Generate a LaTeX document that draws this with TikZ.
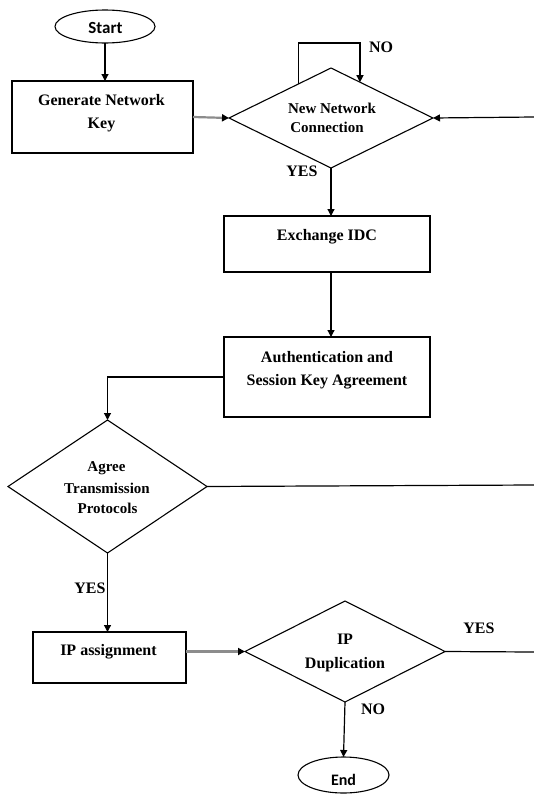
\documentclass[tikz,border=0pt]{standalone}
\usepackage{fontspec}
\setmainfont{Liberation Serif}
\newfontfamily\calfont{Carlito}
\usetikzlibrary{shapes.geometric,arrows.meta}
\begin{document}
\begin{tikzpicture}[x=1pt,y=-1pt,
  box/.style={draw,line width=1.1pt,inner sep=0pt,outer sep=0pt},
  dia/.style={draw,diamond,line width=1.1pt,inner sep=0pt,outer sep=0pt},
  oval/.style={draw,ellipse,line width=1.1pt,inner sep=0pt,outer sep=0pt},
  txt/.style={anchor=base,inner sep=0pt,font=\bfseries\fontsize{16}{19}\selectfont},
  dtxt/.style={anchor=base,inner sep=0pt,font=\bfseries\fontsize{15}{18}\selectfont},
  ctxt/.style={anchor=base,inner sep=0pt,font=\calfont\bfseries\fontsize{17}{20}\selectfont},
  conn/.style={line width=1.2pt},
  arr/.style={conn,-{Triangle[length=7pt,width=7pt]}},
  garr/.style={line width=2.2pt,draw=black!45,-{Triangle[length=7pt,width=7pt,color=black]}}
]
\useasboundingbox[fill=white] (0,0) rectangle (534,795);

% shapes
\node[oval,minimum width=100pt,minimum height=33pt] (start) at (105,26.5) {};
\node[box,minimum width=181pt,minimum height=72pt] (gen) at (102.5,117) {};
\node[dia,minimum width=204pt,minimum height=100pt] (nnc) at (331,118) {};
\node[box,minimum width=206pt,minimum height=56pt] (exch) at (327,244) {};
\node[box,minimum width=206pt,minimum height=80pt] (auth) at (327,377) {};
\node[dia,minimum width=199pt,minimum height=133pt] (agree) at (107.5,486.5) {};
\node[box,minimum width=153pt,minimum height=51pt] (ip) at (109.5,657.5) {};
\node[dia,minimum width=200pt,minimum height=101pt] (ipd) at (345,651.5) {};
\node[oval,minimum width=91pt,minimum height=36pt] (end) at (343.5,775) {};

% texts
\node[ctxt] (tstart) at (105.5,33) {Start};
\node[txt] (tgen1) at (101.5,105) {Generate Network};
\node[txt] (tgen2) at (101.5,128) {Key};
\node[dtxt] (tnnc1) at (332,113) {New Network};
\node[dtxt] (tnnc2) at (327,132) {Connection};
\node[txt] (texch) at (327,240) {Exchange IDC};
\node[txt] (tauth1) at (327,362) {Authentication and};
\node[txt] (tauth2) at (327,385) {Session Key Agreement};
\node[dtxt] (tag1) at (106.5,471) {Agree};
\node[dtxt] (tag2) at (107,493) {Transmission};
\node[dtxt] (tag3) at (107.5,513) {Protocols};
\node[txt] (tip) at (108.5,655) {IP assignment};
\node[txt] (tipd1) at (345,644) {IP};
\node[txt] (tipd2) at (345,668) {Duplication};
\node[ctxt,font=\calfont\bfseries\fontsize{16}{19}\selectfont] (tend) at (343.5,785) {End};

% labels
\node[txt] (lno1) at (381,52) {NO};
\node[txt] (lyes1) at (302,176) {YES};
\node[txt] (lyes2) at (90,593) {YES};
\node[txt] (lyes3) at (479,633) {YES};
\node[txt] (lno2) at (373,714) {NO};

% free ends
\coordinate (rin) at (534,117);
\coordinate (rout1) at (534,485);
\coordinate (rout2) at (534,652);
\coordinate (looptop) at (298,43);

% connectors
\draw[arr] (start.south -| 105,0) -- (105,0 |- gen.north);
\draw[garr] (gen.east) -- (nnc.west);
\draw[arr] (rin) -- (nnc.east);
\draw[arr] (nnc.134) -- (nnc.134 |- looptop) -| (nnc.51);
\draw[arr] (nnc.south) -- (nnc.south |- exch.north);
\draw[arr] (nnc.south |- exch.south) -- (nnc.south |- auth.north);
\draw[arr] (auth.west) -| (agree.north);
\draw[conn] (agree.east) -- (rout1);
\draw[arr] (agree.south) -- (agree.south |- ip.north);
\draw[garr] (ipd.west -| ip.east) -- (ipd.west);
\draw[conn] (ipd.east) -- (rout2);
\draw[arr] (ipd.south) -- (end.north);
\end{tikzpicture}
\end{document}
